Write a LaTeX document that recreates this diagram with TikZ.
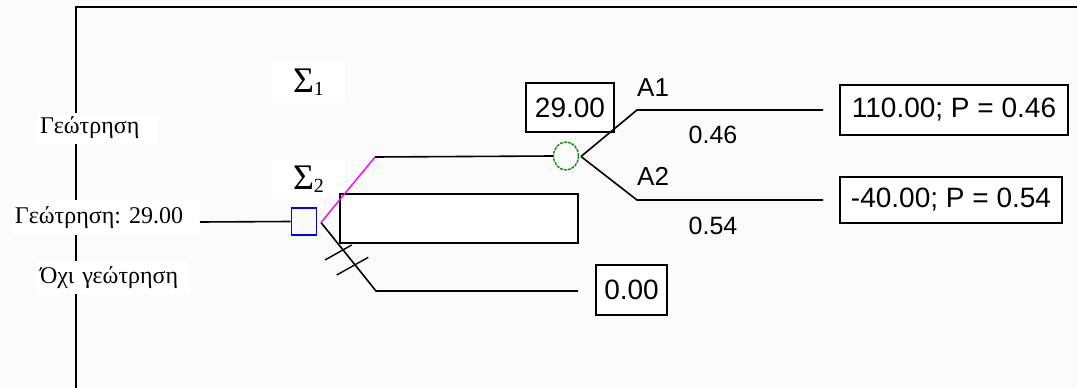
\documentclass[tikz,border=0pt]{standalone}
\usepackage{fontspec}
\setmainfont{Liberation Serif}
\setsansfont{Liberation Sans}
\usetikzlibrary{shapes.geometric}
\definecolor{bgc}{RGB}{250,251,250}
\definecolor{mag}{RGB}{255,0,255}
\definecolor{grn}{RGB}{20,150,20}
\definecolor{blu}{RGB}{0,0,255}
\begin{document}
\frenchspacing
\begin{tikzpicture}[x=1pt,y=-1pt,
  lbl/.style={fill=white, inner xsep=3pt, inner ysep=0pt, align=left, font=\fontsize{24}{24}\selectfont},
  sig/.style={fill=white, minimum width=73pt, inner sep=0pt},
  valbox/.style={draw, line width=1.6pt, fill=white, inner sep=0pt, font=\sffamily\fontsize{28}{28}\selectfont},
  small/.style={inner sep=0pt, font=\sffamily\fontsize{25}{25}\selectfont},
  alab/.style={inner sep=0pt, anchor=base west, font=\sffamily\fontsize{26}{26}\selectfont},
  br/.style={line width=1.6pt},
  cross/.style={line width=1.4pt}]
\useasboundingbox (0,0) rectangle (1077,388);
\fill[bgc] (0,0) rectangle (1077,388);
% frame
\draw[line width=2pt] (76,395) -- (76,7) -- (1085,7);
% left labels
\node[lbl, text width=116pt, minimum height=31pt] (g1) at (98,128) {Γεώτρηση};
\node[lbl, text width=182pt, minimum height=35pt] (g2) at (106,217.5) {Γεώτρηση: 29.00};
\node[lbl, text width=147pt, minimum height=33pt] (g3) at (113.5,277.5) {Όχι γεώτρηση};
% sigma labels
\node[sig, minimum height=40pt] (s1) at (308.5,82) {\fontsize{36}{36}\selectfont Σ\raisebox{-3pt}{\fontsize{20}{20}\selectfont 1}};
\node[sig, minimum height=38pt] (s2) at (308.5,179) {\fontsize{36}{36}\selectfont Σ\raisebox{-3pt}{\fontsize{20}{20}\selectfont 2}};
% decision node
\node[draw=blu, line width=1.8pt, minimum width=25pt, minimum height=27pt, inner sep=0pt] (dec) at (304,221.5) {};
\coordinate (in) at (200,222);
\coordinate (dout) at (321,222.5);
\coordinate (t1) at (375,157);
\coordinate (t2) at (376,291);
\coordinate (t2e) at (578,291);
% collapsed subtree rectangle
\node[draw, fill=white, line width=1.6pt, minimum width=238pt, minimum height=49pt, inner sep=0pt] (sub) at (459,218.5) {};
% chance node
\node[draw=grn, ellipse, minimum width=25pt, minimum height=28pt, inner sep=0pt, line width=1.5pt, dash pattern=on 3pt off 1pt] (chance) at (566,156) {};
% value boxes
\node[valbox, minimum width=88pt, minimum height=49pt] (ev) at (570,107.5) {29.00};
\node[valbox, minimum width=71pt, minimum height=50pt] (v0) at (631.5,290) {0.00};
\node[valbox, minimum width=228pt, minimum height=50pt] (o1) at (954,110) {110.00; P = 0.46};
\node[valbox, minimum width=222pt, minimum height=46pt] (o2) at (951,200) {-40.00; P = 0.54};
% connectors
\draw[br] (in) -- (dec.west);
\draw[br] (dout) -- (t2) -- (t2e);
\draw[mag, line width=1.4pt] (dout) -- (t1);
\draw[br] (t1) -- (chance.west);
\coordinate (c0) at (581,156.5);
\coordinate (c1) at (637,110);
\coordinate (c1e) at (823,110);
\coordinate (c2) at (637,200);
\coordinate (c2e) at (823,200);
\draw[br] (c0) -- (c1) -- (c1e);
\draw[br] (c0) -- (c2) -- (c2e);
% crossed-out marks
\draw[cross] (325,260) -- (351.7,245);
\draw[cross] (336.7,275) -- (368.3,257.3);
% branch labels
\node[alab] (A1) at (637,96.5) {A1};
\node[alab] (A2) at (637,185.5) {A2};
\node[small] (p1) at (713,135) {0.46};
\node[small] (p2) at (713,226) {0.54};
\end{tikzpicture}
\end{document}
